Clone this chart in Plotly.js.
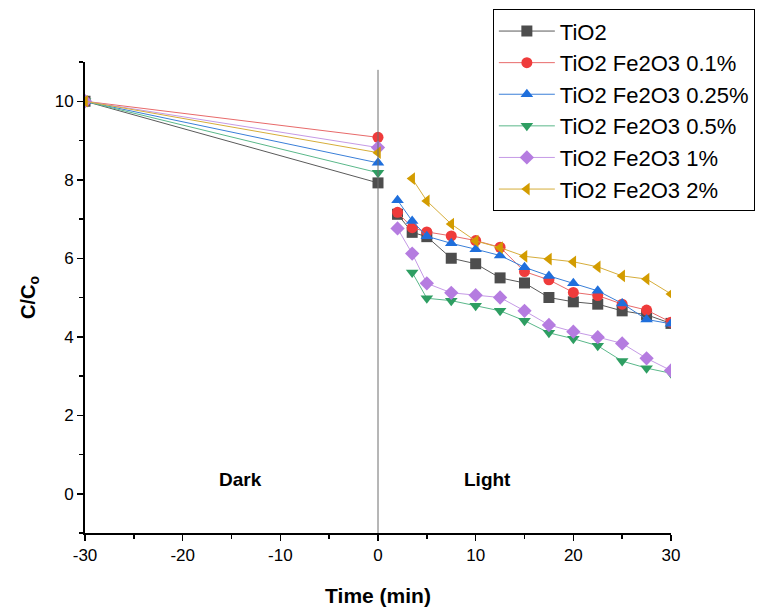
<!DOCTYPE html>
<html>
<head>
<meta charset="utf-8">
<script src="https://cdn.plot.ly/plotly-3.0.1.min.js"></script>
<style>html,body{margin:0;padding:0;background:#fff;}#chart{width:775px;height:610px;}</style>
</head>
<body>
<div id="chart"></div>
<script>
// Dark period (adsorption) times and light period times
const darkTime = [-30, 0];
const lightTime = [2, 3.5, 5, 7.5, 10, 12.5, 15, 17.5, 20, 22.5, 25, 27.5, 30];
const lightTimeLate = [3.5, 5, 7.5, 10, 12.5, 15, 17.5, 20, 22.5, 25, 27.5, 30];

const seriesNames = ["TiO2", "TiO2 Fe2O3 0.1%", "TiO2 Fe2O3 0.25%", "TiO2 Fe2O3 0.5%", "TiO2 Fe2O3 1%", "TiO2 Fe2O3 2%"];

const darkTiO2  = [10, 7.92];
const darkFe01  = [10, 9.08];
const darkFe025 = [10, 8.43];
const darkFe05  = [10, 8.18];
const darkFe1   = [10, 8.82];
const darkFe2   = [10, 8.69];

const lightTiO2  = [7.12, 6.66, 6.55, 6.0, 5.86, 5.50, 5.37, 5.0, 4.89, 4.83, 4.66, 4.56, 4.34];
const lightFe01  = [7.17, 6.78, 6.67, 6.57, 6.45, 6.28, 5.66, 5.45, 5.13, 5.05, 4.83, 4.68, 4.37];
const lightFe025 = [7.48, 6.95, 6.56, 6.38, 6.23, 6.07, 5.77, 5.55, 5.36, 5.17, 4.85, 4.44, 4.33];
const lightFe05  = [5.64, 4.98, 4.92, 4.79, 4.66, 4.41, 4.10, 3.95, 3.77, 3.38, 3.20, 3.07];
const lightFe1   = [6.76, 6.12, 5.36, 5.12, 5.06, 5.0, 4.66, 4.30, 4.13, 3.99, 3.83, 3.45, 3.14];
const lightFe2   = [8.03, 7.46, 6.87, 6.44, 6.27, 6.05, 5.98, 5.91, 5.78, 5.55, 5.47, 5.09];

const xTickVals = [-30, -20, -10, 0, 10, 20, 30];
const xTickText = ["-30", "-20", "-10", "0", "10", "20", "30"];
const yTickVals = [0, 2, 4, 6, 8, 10];
const yTickText = ["0", "2", "4", "6", "8", "10"];

const markerColors = ["#4d4d4d", "#ef3b3b", "#1f6fdc", "#2e9e62", "#b57ce0", "#d39c00"];
const lineColors   = ["#5a5a5a", "#e86a6a", "#3a7fd8", "#5ab88a", "#c59ae6", "#d6ad3a"];
const symbols = ["square", "circle", "triangle-up", "triangle-down", "diamond", "triangle-left"];

const darkSets = [darkTiO2, darkFe01, darkFe025, darkFe05, darkFe1, darkFe2];
const lightSets = [lightTiO2, lightFe01, lightFe025, lightFe05, lightFe1, lightFe2];
const lightTimes = [lightTime, lightTime, lightTime, lightTimeLate, lightTime, lightTimeLate];

const traces = seriesNames.map((name, i) => ({
  type: "scatter",
  mode: "lines+markers",
  name: name,
  x: darkTime.concat([null], lightTimes[i]),
  y: darkSets[i].concat([null], lightSets[i]),
  connectgaps: false,
  line: {color: lineColors[i], width: 1},
  marker: {symbol: symbols[i], color: markerColors[i], size: 11,
           line: {width: 0}}
}));

const layout = {
  width: 775, height: 610,
  margin: {l: 85, r: 104, t: 62, b: 77, autoexpand: false},
  paper_bgcolor: "#ffffff",
  plot_bgcolor: "#ffffff",
  font: {family: "Liberation Sans, Arial, sans-serif", color: "#000"},
  showlegend: true,
  legend: {
    x: 0.696, y: 1.112, xanchor: "left", yanchor: "top",
    bordercolor: "#000", borderwidth: 1, bgcolor: "#fff",
    font: {size: 22, family: "Liberation Sans, Arial, sans-serif"},
    tracegroupgap: 0, itemwidth: 56
  },
  xaxis: {
    range: [-30, 30],
    tickvals: xTickVals, ticktext: xTickText,
    ticks: "outside", ticklen: 6, tickwidth: 1.5, tickcolor: "#000",
    showline: true, linecolor: "#000", linewidth: 2,
    showgrid: false, zeroline: false,
    tickfont: {size: 17},
    minor: {dtick: 5, tick0: -30, ticks: "outside", ticklen: 4, tickcolor: "#000", showgrid: false},
    title: {text: "<b>Time (min)</b>", font: {size: 21}, standoff: 24}
  },
  yaxis: {
    range: [-1, 11],
    tickvals: yTickVals, ticktext: yTickText,
    ticks: "outside", ticklen: 6, tickwidth: 1.5, tickcolor: "#000",
    showline: true, linecolor: "#000", linewidth: 2,
    showgrid: false, zeroline: false,
    tickfont: {size: 17},
    minor: {dtick: 1, tick0: 0, ticks: "outside", ticklen: 4, tickcolor: "#000", showgrid: false},
    title: {text: "<b>C/C<sub>o</sub></b>", font: {size: 20}, standoff: 14}
  },
  shapes: [{
    type: "line", xref: "x", yref: "y",
    x0: 0, x1: 0, y0: -1, y1: 10.8,
    line: {color: "#6e6e6e", width: 1}
  }],
  annotations: [
    {x: -14.1, y: 0.36, xref: "x", yref: "y", text: "<b>Dark</b>", showarrow: false,
     font: {size: 19}},
    {x: 11.2, y: 0.36, xref: "x", yref: "y", text: "<b>Light</b>", showarrow: false,
     font: {size: 19}}
  ]
};

Plotly.newPlot("chart", traces, layout, {displayModeBar: false, staticPlot: true});
</script>
</body>
</html>
